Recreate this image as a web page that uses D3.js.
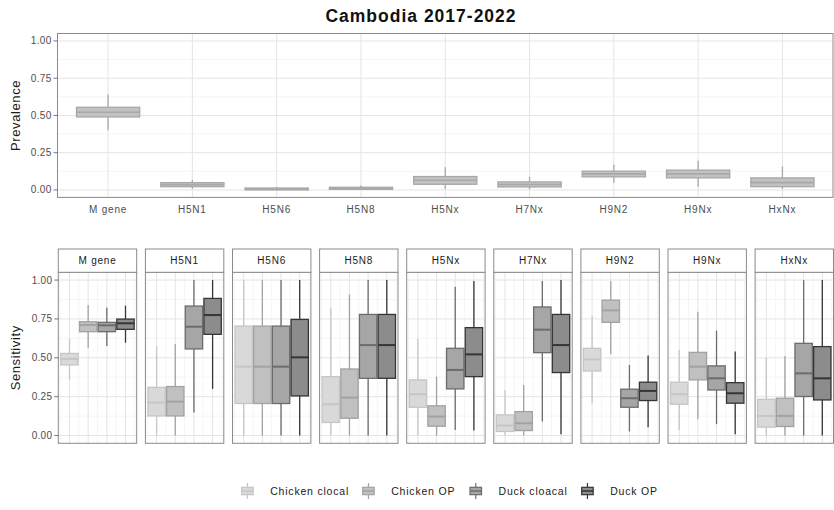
<!DOCTYPE html>
<html><head><meta charset="utf-8">
<script src="https://cdn.jsdelivr.net/npm/d3@7"></script>
<style>
body{margin:0;background:#fff}
text{font-family:"Liberation Sans",Arial,sans-serif}
</style>
</head><body><svg id="chart" width="834" height="510"></svg>
<script>
// ---- data ----
const categories = ["M gene","H5N1","H5N6","H5N8","H5Nx","H7Nx","H9N2","H9Nx","HxNx"];
const yTicks = [0, 0.25, 0.5, 0.75, 1];
const yTickLabels = ["0.00","0.25","0.50","0.75","1.00"];

// prevalence box statistics per subtype
const prevLow  = [0.400, 0.007, 0.000, 0.002, 0.007, 0.005, 0.049, 0.022, 0.005];
const prevQ1   = [0.490, 0.022, 0.000, 0.004, 0.038, 0.020, 0.088, 0.081, 0.022];
const prevMed  = [0.521, 0.035, 0.005, 0.010, 0.065, 0.037, 0.108, 0.108, 0.049];
const prevQ3   = [0.555, 0.049, 0.013, 0.018, 0.090, 0.054, 0.126, 0.133, 0.081];
const prevHigh = [0.640, 0.067, 0.020, 0.030, 0.153, 0.088, 0.169, 0.196, 0.157];

// sensitivity by sample type (columns) per subtype (rows)
const sampleTypes = ["Chicken clocal","Chicken OP","Duck cloacal","Duck OP"];
const sensLow = [
  [0.358,0.565,0.576,0.597],
  [0.000,0.000,0.148,0.300],
  [0.000,0.000,0.000,0.000],
  [0.004,0.000,0.000,0.000],
  [0.004,0.000,0.036,0.032],
  [0.000,0.000,0.090,0.009],
  [0.208,0.525,0.026,0.054],
  [0.036,0.105,0.073,0.009],
  [0.000,0.000,0.000,0.000]
];
const sensQ1 = [
  [0.454,0.668,0.668,0.683],
  [0.126,0.126,0.557,0.651],
  [0.206,0.206,0.206,0.255],
  [0.084,0.111,0.368,0.368],
  [0.182,0.060,0.300,0.379],
  [0.026,0.032,0.533,0.405],
  [0.415,0.728,0.182,0.225],
  [0.201,0.358,0.293,0.208],
  [0.054,0.058,0.251,0.229]
];
const sensMed = [
  [0.493,0.711,0.709,0.722],
  [0.212,0.218,0.700,0.775],
  [0.443,0.443,0.443,0.503],
  [0.201,0.244,0.582,0.582],
  [0.266,0.122,0.422,0.522],
  [0.064,0.079,0.681,0.582],
  [0.490,0.805,0.240,0.287],
  [0.266,0.443,0.368,0.272],
  [0.126,0.126,0.400,0.368]
];
const sensQ3 = [
  [0.528,0.732,0.728,0.749],
  [0.310,0.315,0.833,0.882],
  [0.704,0.704,0.704,0.747],
  [0.379,0.428,0.779,0.779],
  [0.358,0.191,0.561,0.694],
  [0.133,0.154,0.827,0.779],
  [0.561,0.871,0.298,0.343],
  [0.343,0.535,0.448,0.340],
  [0.233,0.240,0.593,0.572]
];
const sensHigh = [
  [0.621,0.839,0.822,0.835],
  [0.576,0.589,1.000,1.000],
  [1.000,1.000,1.000,1.000],
  [0.818,0.908,1.000,1.000],
  [0.621,0.379,0.957,0.994],
  [0.291,0.325,0.994,1.000],
  [0.771,0.994,0.454,0.514],
  [0.550,0.797,0.675,0.540],
  [0.501,0.512,1.000,1.000]
];

// ---- styles ----
const typeFill   = ["#d9d9d9","#c0c0c0","#a6a6a6","#8c8c8c"];
const typeStroke = ["#c6c6c6","#a2a2a2","#6c6c6c","#353535"];
const borderCol = "#8a8a8a", gridMajor = "#e4e4e4", gridMinor = "#f1f1f1", tickCol = "#555";

const svg = d3.select("#chart");

// title
svg.append("text").attr("x", 421).attr("y", 22).attr("text-anchor","middle")
  .attr("font-size", 17.5).attr("font-weight","bold").attr("letter-spacing", 1)
  .attr("fill","#111").text("Cambodia 2017-2022");

function yAxis(g, y, x0) {
  yTicks.forEach((t, i) => {
    g.append("line").attr("x1", x0 - 4).attr("x2", x0).attr("y1", y(t)).attr("y2", y(t))
      .attr("stroke", tickCol).attr("stroke-width", 0.8);
    g.append("text").attr("x", x0 - 6).attr("y", y(t)).attr("dy","0.35em")
      .attr("text-anchor","end").attr("font-size", 10).attr("letter-spacing", 0.3)
      .attr("fill","#4d4d4d").text(yTickLabels[i]);
  });
}
function hGrid(g, y, x0, x1) {
  yTicks.slice(0, -1).forEach(t => {
    const m = t + 0.125;
    g.append("line").attr("x1", x0).attr("x2", x1).attr("y1", y(m)).attr("y2", y(m))
      .attr("stroke", gridMinor).attr("stroke-width", 0.7);
  });
  yTicks.forEach(t => {
    g.append("line").attr("x1", x0).attr("x2", x1).attr("y1", y(t)).attr("y2", y(t))
      .attr("stroke", gridMajor).attr("stroke-width", 1);
  });
}
function boxplot(g, cx, w, y, s, fill, stroke, sw, mw) {
  g.append("line").attr("x1", cx).attr("x2", cx).attr("y1", y(s.hi)).attr("y2", y(s.q3))
    .attr("stroke", stroke).attr("stroke-width", sw);
  g.append("line").attr("x1", cx).attr("x2", cx).attr("y1", y(s.q1)).attr("y2", y(s.lo))
    .attr("stroke", stroke).attr("stroke-width", sw);
  g.append("rect").attr("x", cx - w/2).attr("width", w)
    .attr("y", y(s.q3)).attr("height", Math.max(0.5, y(s.q1) - y(s.q3)))
    .attr("fill", fill).attr("stroke", stroke).attr("stroke-width", sw);
  g.append("line").attr("x1", cx - w/2).attr("x2", cx + w/2).attr("y1", y(s.med)).attr("y2", y(s.med))
    .attr("stroke", stroke).attr("stroke-width", mw);
}

// ---- upper panel: prevalence ----
const prevPanel = {l: 57.5, r: 833, t: 33.5, b: 197.4};
const xPrev = d3.scaleLinear().domain([0.4, categories.length + 0.6]).range([prevPanel.l, prevPanel.r]);
const yPrev = d3.scaleLinear().domain([-0.05, 1.05]).range([prevPanel.b, prevPanel.t]);
const gPrev = svg.append("g");
hGrid(gPrev, yPrev, prevPanel.l, prevPanel.r);
categories.forEach((c, i) => {
  gPrev.append("line").attr("x1", xPrev(i+1)).attr("x2", xPrev(i+1)).attr("y1", prevPanel.t).attr("y2", prevPanel.b)
    .attr("stroke", gridMajor).attr("stroke-width", 1);
});
const stepPrev = xPrev(2) - xPrev(1);
categories.forEach((c, i) => {
  boxplot(gPrev, xPrev(i+1), stepPrev*0.75, yPrev,
    {lo: prevLow[i], q1: prevQ1[i], med: prevMed[i], q3: prevQ3[i], hi: prevHigh[i]},
    "#c2c2c2", "#a8a8a8", 1.3, 1.6);
  gPrev.append("text").attr("x", xPrev(i+1)).attr("y", 213).attr("text-anchor","middle")
    .attr("font-size", 10).attr("letter-spacing", 0.8).attr("fill","#4d4d4d").text(c);
});
gPrev.append("rect").attr("x", prevPanel.l).attr("y", prevPanel.t)
  .attr("width", prevPanel.r - prevPanel.l).attr("height", prevPanel.b - prevPanel.t)
  .attr("fill","none").attr("stroke", borderCol).attr("stroke-width", 1);
yAxis(gPrev, yPrev, prevPanel.l);
svg.append("text").attr("transform", `translate(20,${(prevPanel.t+prevPanel.b)/2}) rotate(-90)`)
  .attr("text-anchor","middle").attr("font-size", 13).attr("letter-spacing", 0.6)
  .attr("fill","#1a1a1a").text("Prevalence");

// ---- lower facets: sensitivity ----
const facet = {l0: 58.3, w: 78.4, step: 87.1, stripT: 249, stripB: 272.3, b: 443.3};
const ySens = d3.scaleLinear().domain([-0.05, 1.05]).range([facet.b, facet.stripB]);
categories.forEach((c, i) => {
  const x0 = facet.l0 + i * facet.step, x1 = x0 + facet.w;
  const g = svg.append("g");
  const x = d3.scaleLinear().domain([0.4, sampleTypes.length + 0.6]).range([x0, x1]);
  hGrid(g, ySens, x0, x1);
  d3.range(0.5, sampleTypes.length + 1, 1).forEach(m => {
    g.append("line").attr("x1", x(m)).attr("x2", x(m)).attr("y1", facet.stripB).attr("y2", facet.b)
      .attr("stroke", gridMinor).attr("stroke-width", 0.7);
  });
  sampleTypes.forEach((s, j) => {
    g.append("line").attr("x1", x(j+1)).attr("x2", x(j+1)).attr("y1", facet.stripB).attr("y2", facet.b)
      .attr("stroke", gridMajor).attr("stroke-width", 1);
  });
  const step = x(2) - x(1);
  sampleTypes.forEach((s, j) => {
    boxplot(g, x(j+1), step*0.93, ySens,
      {lo: sensLow[i][j], q1: sensQ1[i][j], med: sensMed[i][j], q3: sensQ3[i][j], hi: sensHigh[i][j]},
      typeFill[j], typeStroke[j], 1.3, 2);
  });
  g.append("rect").attr("x", x0).attr("y", facet.stripB).attr("width", facet.w).attr("height", facet.b - facet.stripB)
    .attr("fill","none").attr("stroke", borderCol).attr("stroke-width", 1);
  g.append("rect").attr("x", x0).attr("y", facet.stripT).attr("width", facet.w).attr("height", facet.stripB - facet.stripT)
    .attr("fill","#fff").attr("stroke", borderCol).attr("stroke-width", 1);
  g.append("text").attr("x", (x0 + x1)/2).attr("y", (facet.stripT + facet.stripB)/2).attr("dy","0.35em")
    .attr("text-anchor","middle").attr("font-size", 10).attr("letter-spacing", 0.8)
    .attr("fill","#1a1a1a").text(c);
  if (i === 0) yAxis(g, ySens, x0);
});
svg.append("text").attr("transform", `translate(20,${(facet.stripB+facet.b)/2}) rotate(-90)`)
  .attr("text-anchor","middle").attr("font-size", 13).attr("letter-spacing", 0.6)
  .attr("fill","#1a1a1a").text("Sensitivity");

// ---- legend ----
const legendKeyX = [241.7, 362.7, 470, 581.7];
const gLeg = svg.append("g");
sampleTypes.forEach((s, j) => {
  const kx = legendKeyX[j], kw = 11.5, cy = 491;
  const ky = d3.scaleLinear().domain([0, 1]).range([cy + 8, cy - 8]);
  boxplot(gLeg, kx + kw/2, kw, ky, {lo: 0, q1: 0.27, med: 0.5, q3: 0.73, hi: 1},
    typeFill[j], typeStroke[j], 1.2, 1.5);
  gLeg.append("text").attr("x", kx + kw + 17).attr("y", cy).attr("dy","0.35em")
    .attr("font-size", 10.5).attr("letter-spacing", 0.8).attr("fill","#1a1a1a").text(s);
});
</script>
</body></html>
